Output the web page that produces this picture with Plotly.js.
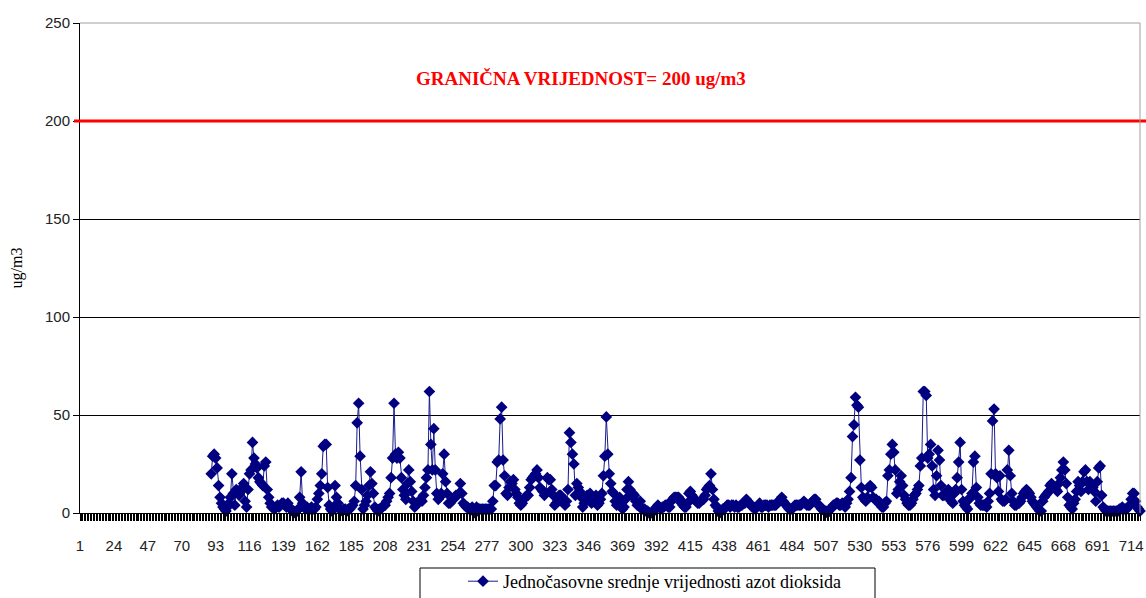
<!DOCTYPE html>
<html>
<head>
<meta charset="utf-8">
<script src="https://cdn.plot.ly/plotly-3.0.1.min.js"></script>
<style>html,body{margin:0;padding:0;background:#fff;}#chart{width:1146px;height:598px;}</style>
</head>
<body>
<div id="chart"></div>
<script>
// Hour categories 1..720 (category axis), measurements start at hour 90
const firstHour = 90;
const lastHour = 720;
const xTickStart = 1;
const xTickStep = 23;
const limitValue = 200;
const limitLabel = "GRANIČNA VRIJEDNOST= 200 ug/m3";
const seriesName = "Jednočasovne srednje vrijednosti azot dioksida";
const yTitle = "ug/m3";

// Hourly NO2 values (ug/m3), hours 90..720
const no2 = [
  20,29,30,28,23,14,8,5,3,2,
  1,3,5,8,20,10,4,12,10,9,
  11,13,15,6,3,12,20,22,36,28,
  25,23,18,16,15,14,24,26,12,8,
  5,3,3,2,3,4,3,4,5,5,
  4,3,5,3,2,1,1,0,1,2,
  8,21,5,3,2,3,2,2,3,2,
  2,3,7,10,14,20,34,35,35,13,
  4,2,1,3,14,8,5,2,2,1,
  2,2,1,2,2,3,4,6,14,46,
  56,29,12,2,4,6,9,14,21,15,
  10,3,2,1,2,2,3,4,4,6,
  8,10,18,28,56,30,28,31,28,18,
  12,9,7,15,22,16,11,6,3,4,
  5,6,7,6,9,13,18,22,62,35,
  22,43,22,10,7,8,10,20,30,16,
  10,5,5,6,7,8,9,9,10,15,
  10,5,4,3,3,2,2,3,1,0,
  3,2,2,2,2,2,2,2,2,2,
  2,6,14,14,26,27,48,54,27,19,
  10,9,13,16,15,17,12,10,8,5,
  4,5,7,8,9,9,13,17,18,19,
  20,22,18,13,12,11,9,10,18,17,
  17,12,9,4,5,6,9,9,8,6,
  4,6,12,41,36,30,25,9,15,13,
  11,8,3,5,7,9,7,10,5,7,
  8,9,4,5,7,10,19,29,49,30,
  20,15,11,10,6,4,6,8,5,2,
  3,7,12,16,12,9,10,9,6,4,
  4,6,2,2,2,1,1,0,0,0,
  1,2,3,4,3,2,3,3,4,4,
  3,3,6,7,8,8,8,8,7,5,
  4,3,3,5,10,11,9,8,7,6,
  5,5,6,7,7,9,12,13,14,20,
  12,7,4,3,1,0,1,2,2,3,
  4,4,3,4,4,3,4,3,3,4,
  4,5,5,7,6,5,4,3,3,2,
  3,4,5,3,3,4,4,4,3,4,
  4,4,4,4,5,6,7,8,6,5,
  4,3,2,2,2,3,4,4,4,4,
  4,5,6,5,4,4,4,5,6,7,
  7,5,4,3,2,2,1,1,0,1,
  2,3,4,4,5,5,4,4,5,4,
  3,5,7,11,18,39,45,59,55,54,
  27,13,8,7,6,8,13,14,13,8,
  7,7,6,6,4,3,3,5,6,19,
  22,30,35,31,22,10,12,16,19,14,
  9,7,5,4,4,5,7,9,10,12,
  14,24,28,62,62,60,28,30,35,24,
  12,9,19,32,27,14,9,9,10,11,
  12,7,6,5,10,12,18,26,36,12,
  6,4,3,2,7,8,10,26,29,13,
  8,5,4,4,4,4,3,6,10,20,
  47,53,20,18,11,19,7,6,6,7,
  22,32,19,10,6,4,4,5,5,6,
  8,10,11,12,11,10,8,6,5,4,
  3,2,1,1,6,8,9,10,11,14,
  15,14,13,12,11,15,18,22,26,22,
  15,8,4,3,2,5,7,11,16,14,
  11,16,21,22,16,12,16,15,13,11,
  6,16,23,24,9,3,2,1,1,1,
  1,1,1,1,1,1,2,2,3,2,
  2,2,3,4,7,10,10,6,3,2,
  1
];
const hours = no2.map((_, k) => firstHour + k);

const W = 1146, H = 598;
const L = 80, R = 1140, T = 23, B = 513;
const pw = R - L, ph = B - T;
const px = v => (v - L) / pw;
const py = v => (B - v) / ph;

const trace = {
  x: hours, y: no2, type: 'scatter', mode: 'lines+markers',
  name: seriesName, cliponaxis: false,
  line: {color: '#1a1a8c', width: 1},
  marker: {symbol: 'diamond', size: 9, color: '#000080', line: {width: 0}}
};

const layout = {
  width: W, height: H,
  margin: {l: L, r: W - R, t: T, b: H - B, autoexpand: false},
  paper_bgcolor: '#fff', plot_bgcolor: '#fff',
  showlegend: true,
  xaxis: {
    range: [1, lastHour], tickmode: 'linear', tick0: xTickStart, dtick: xTickStep,
    showgrid: false, zeroline: false, showline: true, linecolor: '#000', linewidth: 1,
    ticks: 'outside', ticklen: 7, tickcolor: '#000', tickwidth: 1,
    minor: {dtick: 1, tick0: 1, ticks: 'outside', ticklen: 7, tickcolor: '#000', tickwidth: 1, showgrid: false},
    ticklabelstandoff: 12,
    tickfont: {family: 'Liberation Sans, Arial, sans-serif', size: 15, color: '#222'},
    automargin: false, fixedrange: true
  },
  yaxis: {
    range: [0, 250], tickmode: 'linear', tick0: 0, dtick: 50,
    showgrid: true, gridcolor: '#000', gridwidth: 1, zeroline: false,
    showline: true, linecolor: '#000', linewidth: 1,
    ticks: 'outside', ticklen: 6, tickcolor: '#000',
    tickfont: {family: 'Liberation Sans, Arial, sans-serif', size: 15, color: '#222'},
    title: {text: yTitle, font: {family: 'Liberation Serif, Times New Roman, serif', size: 16, color: '#000'}, standoff: 18},
    automargin: false, fixedrange: true
  },
  legend: {
    x: px(463), y: py(563), xanchor: 'left', yanchor: 'top',
    orientation: 'h', bgcolor: 'rgba(0,0,0,0)', borderwidth: 0,
    font: {family: 'Liberation Serif, Times New Roman, serif', size: 18, color: '#000'}
  },
  shapes: [
    {type: 'line', xref: 'paper', yref: 'y', x0: px(74), x1: px(1146), y0: limitValue, y1: limitValue,
     line: {color: '#ff0000', width: 3}, layer: 'above'},
    {type: 'line', xref: 'paper', yref: 'paper', x0: 0, x1: 1, y0: 1, y1: 1,
     line: {color: '#a0a0a0', width: 1}, layer: 'above'},
    {type: 'line', xref: 'paper', yref: 'paper', x0: 1, x1: 1, y0: 0, y1: 1,
     line: {color: '#a0a0a0', width: 1}, layer: 'above'},
    {type: 'rect', xref: 'paper', yref: 'paper', x0: px(420), x1: px(875), y0: py(568), y1: py(615),
     line: {color: '#000', width: 1}, fillcolor: 'rgba(0,0,0,0)'}
  ],
  annotations: [
    {xref: 'paper', yref: 'paper', x: px(581), y: py(78), xanchor: 'center', yanchor: 'middle',
     text: '<b>' + limitLabel + '</b>', showarrow: false,
     font: {family: 'Liberation Serif, Times New Roman, serif', size: 19, color: '#ff0000'}}
  ]
};

Plotly.newPlot('chart', [trace], layout, {staticPlot: true, displayModeBar: false});
</script>
</body>
</html>
